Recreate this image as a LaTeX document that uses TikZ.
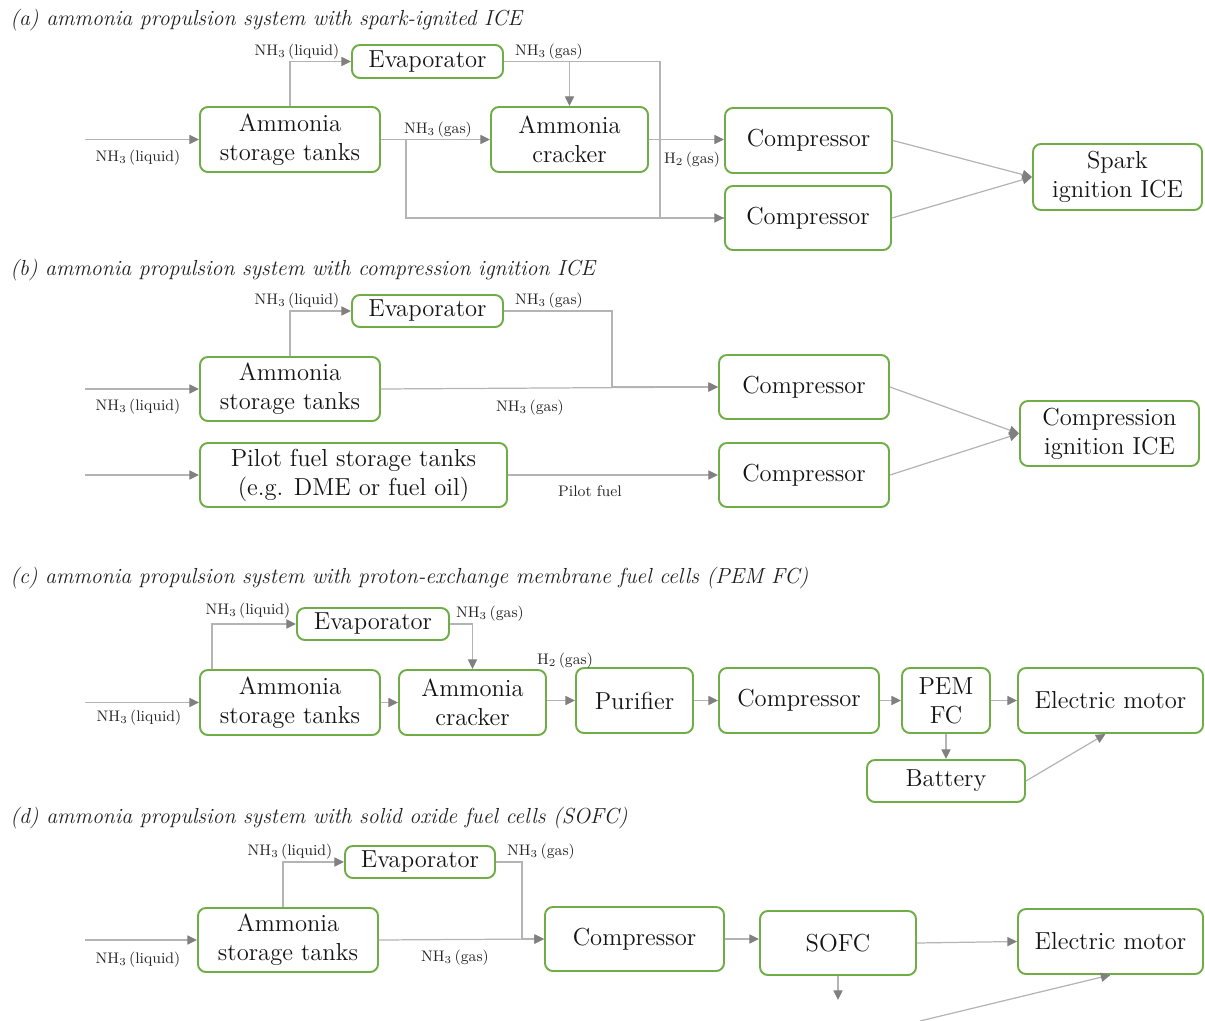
\documentclass[tikz,border=0pt]{standalone}
\usepackage{tikz}
\usetikzlibrary{arrows.meta, positioning, calc}
\definecolor{unitgreen}{RGB}{112,173,71}
\definecolor{pipegray}{RGB}{180,180,180}
\definecolor{tipgray}{RGB}{128,128,128}
\newcommand{\nhthree}{NH\textsubscript{3}}
\newcommand{\htwo}{H\textsubscript{2}}
\tikzset{
  unit/.style={draw=unitgreen, line width=1.1pt, rounded corners=4.5pt,
               align=center, inner sep=0pt, text=black!92,
               font=\fontsize{14}{16.5}\selectfont},
  boxsize/.style 2 args={minimum width=#1*0.02cm, minimum height=#2*0.02cm},
  pipe/.style={draw=pipegray, line width=0.7pt},
  flow/.style={pipe, -{Triangle[length=5.5pt, width=5.2pt, color=tipgray]}},
  stream/.style={font=\fontsize{8.7}{10}\selectfont, inner sep=0pt, text=black!85},
  caption/.style={font=\itshape\fontsize{12.4}{14}\selectfont, anchor=west,
                  inner sep=0pt, text=black!88},
}

\begin{document}
\begin{tikzpicture}[x=0.02cm, y=-0.02cm]
  \useasboundingbox (0,0) rectangle (1205,1021);

  % (a) spark-ignited ICE
  \node[caption] (capA) at (10,20) {(a) ammonia propulsion system with spark-ignited ICE};
  \node[unit, boxsize={151}{33}] (evapA) at (427.5,61.5) {Evaporator};
  \node[unit, boxsize={180}{65}] (tankA) at (290,139.5) {Ammonia\\storage tanks};
  \node[unit, boxsize={157}{65}] (crackA) at (569.5,139.5) {Ammonia\\cracker};
  \node[unit, boxsize={167}{65}] (compA1) at (808.5,140.5) {Compressor};
  \node[unit, boxsize={166}{64}] (compA2) at (808,218) {Compressor};
  \node[unit, boxsize={169}{66}] (iceA) at (1117.5,177) {Spark\\ignition ICE};
  \coordinate (inA) at (85,139.5);
  \draw[flow] (inA) -- (tankA.west);
  \draw[flow] (tankA.north) |- (evapA.west);
  \draw[flow] (tankA.east) -- (crackA.west);
  \draw[pipe] ($(tankA.east)+(25,0)$) |- (compA2.west);
  \draw[flow] (evapA.east) -- ++(156,0) |- (compA2.west);
  \draw[flow] (crackA.north |- evapA.east) -- (crackA.north);
  \draw[flow] (crackA.east) -- (crackA.east -| compA1.west);
  \draw[flow] (compA1.east) -- (iceA.west);
  \draw[flow] (compA2.east) -- (iceA.west);
  \node[stream] (lblA1) at (138,158) {\nhthree\,(liquid)};
  \node[stream] (lblA2) at (297,52) {\nhthree\,(liquid)};
  \node[stream] (lblA3) at (549,52) {\nhthree\,(gas)};
  \node[stream] (lblA4) at (438,130) {\nhthree\,(gas)};
  \node[stream] (lblA5) at (692,160) {\htwo\,(gas)};

  % (b) compression ignition ICE
  \node[caption] (capB) at (10,270) {(b) ammonia propulsion system with compression ignition ICE};
  \node[unit, boxsize={151}{32}] (evapB) at (427.5,311) {Evaporator};
  \node[unit, boxsize={180}{64}] (tankB) at (290,389) {Ammonia\\storage tanks};
  \node[unit, boxsize={307}{64}] (pilotB) at (353.5,475) {Pilot fuel storage tanks\\(e.g. DME or fuel oil)};
  \node[unit, boxsize={170}{64}] (compB1) at (804,387) {Compressor};
  \node[unit, boxsize={170}{64}] (compB2) at (804,475) {Compressor};
  \node[unit, boxsize={179}{65}] (iceB) at (1109.5,433.5) {Compression\\ignition ICE};
  \coordinate (inB) at (85,389);
  \coordinate (inB2) at (85,475);
  \draw[flow] (inB) -- (tankB.west);
  \draw[flow] (tankB.north) |- (evapB.west);
  \draw[flow] (evapB.east) -- ++(108,0) |- (compB1.west);
  \draw[flow] (tankB.east) -- (compB1.west);
  \draw[flow] (inB2) -- (pilotB.west);
  \draw[flow] (pilotB.east) -- (compB2.west);
  \draw[flow] (compB1.east) -- (iceB.west);
  \draw[flow] (compB2.east) -- (iceB.west);
  \node[stream] (lblB1) at (138,407) {\nhthree\,(liquid)};
  \node[stream] (lblB2) at (297,301) {\nhthree\,(liquid)};
  \node[stream] (lblB3) at (549,301) {\nhthree\,(gas)};
  \node[stream] (lblB4) at (530,408) {\nhthree\,(gas)};
  \node[stream] (lblB5) at (590,491) {Pilot fuel};

  % (c) PEM fuel cells
  \node[caption] (capC) at (10,578) {(c) ammonia propulsion system with proton-exchange membrane fuel cells (PEM FC)};
  \node[unit, boxsize={152}{32}] (evapC) at (373,624) {Evaporator};
  \node[unit, boxsize={180}{65}] (tankC) at (290,702.5) {Ammonia\\storage tanks};
  \node[unit, boxsize={147}{65}] (crackC) at (472.5,702.5) {Ammonia\\cracker};
  \node[unit, boxsize={117}{65}] (purC) at (634.5,700.5) {Purifier};
  \node[unit, boxsize={160}{65}] (compC) at (799,700.5) {Compressor};
  \node[unit, boxsize={88}{65}] (pemC) at (946,700.5) {PEM\\FC};
  \node[unit, boxsize={185}{65}] (motorC) at (1110.5,700.5) {Electric motor};
  \node[unit, boxsize={158}{42}] (battC) at (946,781) {Battery};
  \coordinate (inC) at (85,702.5);
  \draw[flow] (inC) -- (tankC.west);
  \draw[flow] ($(tankC.north west)+(13,0)$) |- (evapC.west);
  \draw[flow] (evapC.east) -| (crackC.north);
  \draw[flow] (tankC.east) -- (crackC.west);
  \foreach \a/\b in {crackC/purC, purC/compC, compC/pemC, pemC/motorC}
    \draw[flow] (\b.west -| \a.east) -- (\b.west);
  \draw[flow] (pemC.south) -- (battC.north);
  \draw[flow] (battC.east) -- ($(motorC.south)+(-5,0)$);
  \node[stream] (lblC1) at (139,718) {\nhthree\,(liquid)};
  \node[stream] (lblC2) at (248,611) {\nhthree\,(liquid)};
  \node[stream] (lblC3) at (490,614) {\nhthree\,(gas)};
  \node[stream] (lblC4) at (565,661) {\htwo\,(gas)};

  % (d) solid oxide fuel cells
  \node[caption] (capD) at (10,818) {(d) ammonia propulsion system with solid oxide fuel cells (SOFC)};
  \node[unit, boxsize={150}{32}] (evapD) at (420,862) {Evaporator};
  \node[unit, boxsize={180}{64}] (tankD) at (288,940) {Ammonia\\storage tanks};
  \node[unit, boxsize={179}{64}] (compD) at (634.5,939) {Compressor};
  \node[unit, boxsize={156}{64}] (sofcD) at (838,943) {SOFC};
  \node[unit, boxsize={185}{65}] (motorD) at (1110.5,941.5) {Electric motor};
  \coordinate (inD) at (85,940);
  \coordinate (outD) at (838,1000);
  \coordinate (feedD) at (920,1021);
  \draw[flow] (inD) -- (tankD.west);
  \draw[flow] ($(tankD.north)+(-5,0)$) |- (evapD.west);
  \draw[flow] (evapD.east) -- ++(26,0) |- (compD.west);
  \draw[flow] (tankD.east) -- (compD.west);
  \draw[flow] (compD.east) -- (compD.east -| sofcD.west);
  \draw[flow] (sofcD.east) -- (motorD.west);
  \draw[flow] (sofcD.south) -- (outD);
  \draw[flow] (feedD) -- (motorD.south);
  \node[stream] (lblD1) at (138,960) {\nhthree\,(liquid)};
  \node[stream] (lblD2) at (290,852) {\nhthree\,(liquid)};
  \node[stream] (lblD3) at (541,852) {\nhthree\,(gas)};
  \node[stream] (lblD4) at (455,958) {\nhthree\,(gas)};
\end{tikzpicture}
\end{document}
